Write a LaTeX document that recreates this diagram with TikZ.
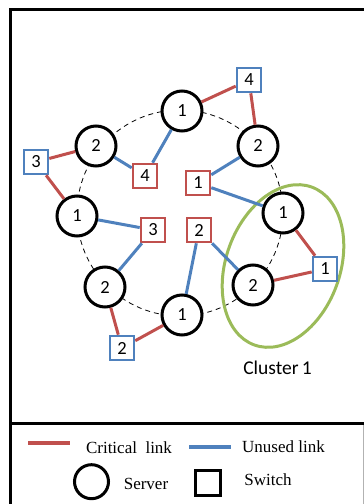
\documentclass[tikz,border=0pt]{standalone}
\usepackage{fontspec}
\setmainfont{Liberation Serif}
\newfontfamily\numfont{Carlito}
\definecolor{critred}{HTML}{C0504D}
\definecolor{unusedblue}{HTML}{4F81BD}
\definecolor{clustergreen}{HTML}{9BBB59}
\tikzset{
  server/.style={circle, draw=black, line width=3pt, fill=white, minimum size=40pt, inner sep=0pt,
    font=\numfont\fontsize{18.5}{20}\selectfont},
  switch/.style={rectangle, draw=#1, line width=2.6pt, fill=white, minimum size=24pt, inner sep=0pt,
    font=\numfont\fontsize{18.5}{20}\selectfont},
  critical/.style={critred, line width=3pt},
  unused/.style={unusedblue, line width=3pt},
  legtext/.style={anchor=base, font=\fontsize{17}{20}\selectfont, inner sep=0pt},
}

\begin{document}
\begin{tikzpicture}[x=1pt, y=1pt]
\useasboundingbox (0,0) rectangle (364,504);

\draw[line width=3pt] (10,0) -- (10,494.5) -- (364,494.5);
\draw[line width=3pt] (10,80.5) -- (364,80.5);
\draw[gray!60, line width=0.8pt] (363.5,0) -- (363.5,79);

\draw[dash pattern=on 5pt off 4pt, line width=0.8pt] (180,291) circle (103);
\draw[clustergreen, line width=3pt, rotate around={-20:(283,238)}] (283,238) ellipse (57 and 84);

\node[server] (s1top) at (182,393) {1};
\node[server] (s2nw) at (96,358) {2};
\node[server] (s2ne) at (258,358) {2};
\node[server] (s1w) at (77,288) {1};
\node[server] (s1e) at (283,291) {1};
\node[server] (s2sw) at (105,217) {2};
\node[server] (s1bot) at (182,189) {1};
\node[server] (s2se) at (253,219) {2};

\node[switch=unusedblue] (w4out) at (249,424) {4};
\node[switch=unusedblue] (w3out) at (36,342) {3};
\node[switch=unusedblue] (w1out) at (325,235) {1};
\node[switch=unusedblue] (w2out) at (122,156) {2};
\node[switch=critred] (w4in) at (145,328) {4};
\node[switch=critred] (w1in) at (198,321) {1};
\node[switch=critred] (w3in) at (153,274) {3};
\node[switch=critred] (w2in) at (199,274) {2};

\draw[critical] (s1top) -- (w4out);
\draw[critical] (w4out) -- (s2ne);
\draw[critical] (s2nw) -- (w3out);
\draw[critical] (w3out) -- (s1w);
\draw[critical] (s1e) -- (w1out);
\draw[critical] (s2se) -- (w1out);
\draw[critical] (s2sw) -- (w2out);
\draw[critical] (w2out) -- (s1bot);

\draw[unused] (s1top) -- (w4in);
\draw[unused] (s2nw) -- (w4in);
\draw[unused] (s2ne) -- (w1in);
\draw[unused] (w1in) -- (s1e);
\draw[unused] (s1w) -- (w3in);
\draw[unused] (w3in) -- (s2sw);
\draw[unused] (w2in) -- (s1bot);
\draw[unused] (w2in) -- (s2se);

\node[anchor=base, font=\numfont\fontsize{19.5}{22}\selectfont, inner sep=0pt] (clabel) at (277.5,129) {Cluster\,1};

\coordinate (critA) at (28,61);
\coordinate (critB) at (70,61);
\coordinate (unusA) at (189,57);
\coordinate (unusB) at (231,57);
\draw[critical, line width=4pt] (critA) -- (critB);
\draw[unused, line width=4pt] (unusA) -- (unusB);
\node[legtext] (critlab) at (129,50) {Critical\ \ link};
\node[legtext] (unuslab) at (283.5,51) {Unused link};
\node[circle, draw, line width=3pt, minimum size=34pt, inner sep=0pt] (legserver) at (91.5,22.3) {};
\node[legtext] (servlab) at (146,15) {Server};
\node[rectangle, draw, line width=3pt, minimum size=25pt, inner sep=0pt] (legswitch) at (208,20.5) {};
\node[legtext] (swlab) at (268,19) {Switch};
\end{tikzpicture}
\end{document}
